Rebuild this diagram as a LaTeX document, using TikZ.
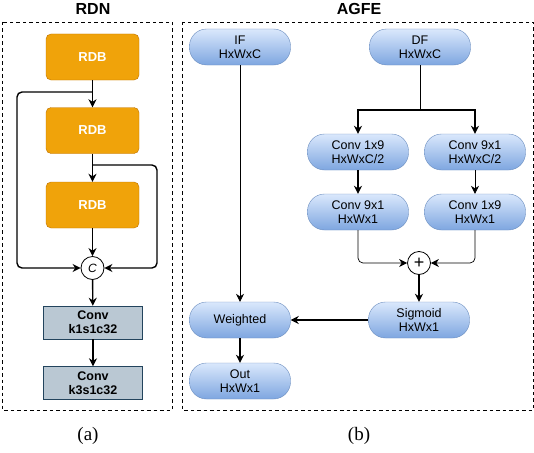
\documentclass[tikz,border=0pt]{standalone}
\usepackage{fontspec}
\setmainfont{Liberation Serif}
\setsansfont{Liberation Sans}
\usepackage{tikz}
\usetikzlibrary{arrows.meta}

\definecolor{rdbfill}{HTML}{F0A30A}
\definecolor{rdbline}{HTML}{BD7000}
\definecolor{convfill}{HTML}{BAC8D3}
\definecolor{convline}{HTML}{23445D}
\definecolor{pilltop}{HTML}{DAE8FC}
\definecolor{pillbot}{HTML}{7EA6E0}
\definecolor{pillline}{HTML}{6C8EBF}

\tikzset{
  rdb/.style={rectangle, rounded corners=5pt, draw=rdbline, fill=rdbfill, minimum width=93pt, minimum height=46pt, text=white, font=\sffamily\bfseries\fontsize{13}{15}\selectfont},
  convbox/.style={rectangle, draw=convline, fill=convfill, minimum width=99pt, minimum height=33pt, align=center, inner sep=0pt, font=\sffamily\bfseries\fontsize{12.5}{14}\selectfont},
  pill/.style={rectangle, rounded corners=17pt, draw=pillline, top color=pilltop, bottom color=pillbot, minimum width=101pt, minimum height=36pt, align=center, inner sep=0pt, font=\sffamily\fontsize{12.5}{14}\selectfont},
  joint/.style={circle, draw, line width=0.8pt, fill=white, minimum size=23pt, inner sep=0pt},
  arr/.style={-{Stealth[length=8pt,width=8pt]}, line width=1.4pt},
  thinarr/.style={-{Stealth[length=8pt,width=8pt]}, line width=0.7pt},
  frame/.style={dash pattern=on 3.5pt off 3pt, line width=0.9pt},
  title/.style={font=\sffamily\bfseries\fontsize{16}{18}\selectfont},
  caption/.style={font=\fontsize{19}{21}\selectfont}
}

\begin{document}
\begin{tikzpicture}[x=1pt, y=-1pt]
        \useasboundingbox (0,0) rectangle (534,452);

        % Frames and titles
        \draw[frame] (2,22) rectangle (172,410);
        \draw[frame] (182,22) rectangle (533,410);
        \node[title] (tRDN) at (93,9) {RDN};
        \node[title] (tAGFE) at (359,9) {AGFE};
        \node[caption] (capA) at (88,436) {(a)};
        \node[caption] (capB) at (359,436) {(b)};

        % Define nodes (RDN)
        \node[rdb] (R1) at (92.5,57) {RDB};
        \node[rdb] (R2) at (92.5,130.5) {RDB};
        \node[rdb] (R3) at (92.5,205) {RDB};
        \node[joint, font=\sffamily\itshape\fontsize{12}{12}\selectfont] (C) at (92.5,268) {C};
        \node[convbox] (K1) at (93,322.5) {Conv\\k1s1c32};
        \node[convbox] (K2) at (93,383) {Conv\\k3s1c32};
        \coordinate (s1) at (92.5,92);
        \coordinate (s2) at (92.5,165);

        % Draw edges (RDN)
        \draw[arr] (R1) -- (R2);
        \draw[arr] (R2) -- (R3);
        \draw[arr] (R3) -- (C);
        \draw[arr, rounded corners=5pt] (s1) -| (17,268) -- (C.west);
        \draw[arr, rounded corners=5pt] (s2) -| (157,268) -- (C.east);
        \draw[arr] (C) -- (K1);
        \draw[arr] (K1) -- (K2);

        % Define nodes (AGFE)
        \node[pill] (IF) at (240,47) {IF\\HxWxC};
        \node[pill] (DF) at (420,47) {DF\\HxWxC};
        \node[pill] (A1) at (358,152) {Conv 1x9\\HxWxC/2};
        \node[pill] (B1) at (475,152) {Conv 9x1\\HxWxC/2};
        \node[pill] (A2) at (358,212) {Conv 9x1\\HxWx1};
        \node[pill] (B2) at (475,212) {Conv 1x9\\HxWx1};
        \node[joint, font=\sffamily\fontsize{18}{18}\selectfont] (P) at (419,263) {+};
        \node[pill] (Sig) at (419,320) {Sigmoid\\HxWx1};
        \node[pill] (W) at (240,320) {Weighted};
        \node[pill] (Out) at (240,381) {Out\\HxWx1};
        \coordinate (split) at (420,110);

        % Draw edges (AGFE)
        \draw[line width=0.7pt] (DF) -- (split);
        \draw[arr] (split) -| (A1);
        \draw[arr] (split) -| (B1);
        \draw[arr] (A1) -- (A2);
        \draw[thinarr] (B1) -- (B2);
        \draw[thinarr, rounded corners=5pt] (A2) |- (P);
        \draw[thinarr, rounded corners=5pt] (B2) |- (P);
        \draw[arr] (P) -- (Sig);
        \draw[arr] (Sig) -- (W);
        \draw[thinarr] (IF) -- (W);
        \draw[arr] (W) -- (Out);
\end{tikzpicture}
\end{document}
